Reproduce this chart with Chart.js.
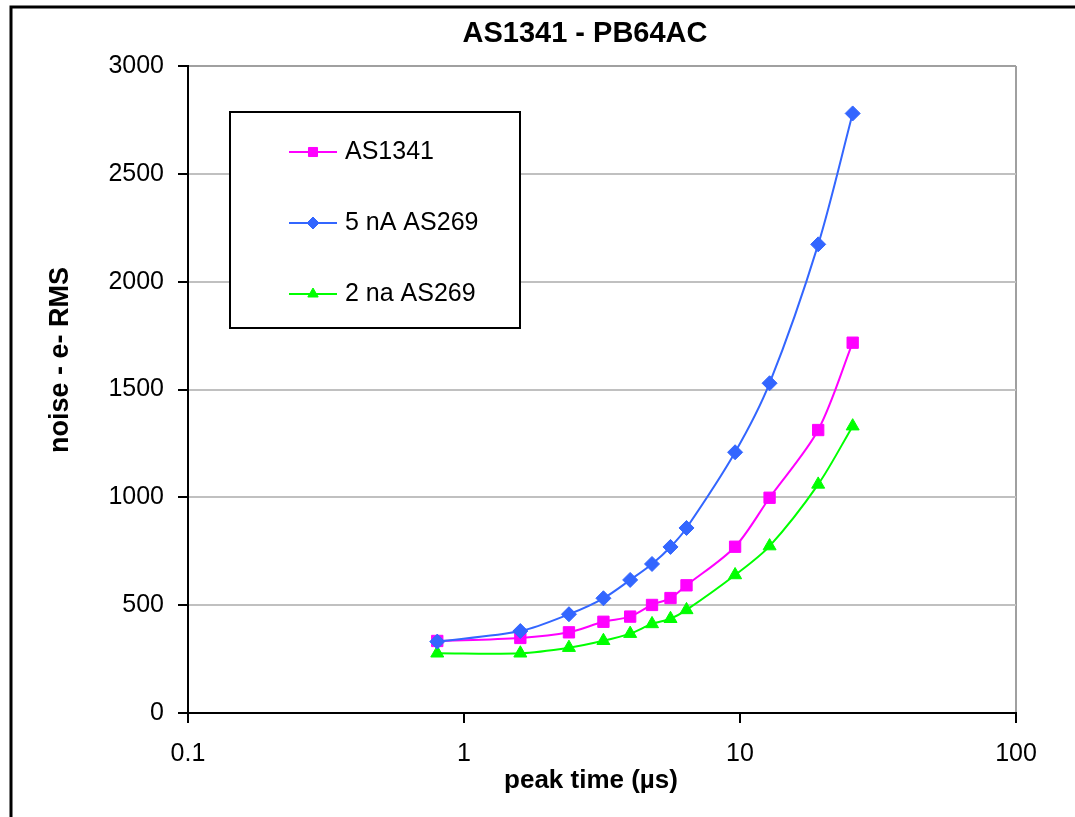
<!DOCTYPE html>
<html>
<head>
<meta charset="utf-8">
<script src="https://cdn.jsdelivr.net/npm/chart.js@4.4.1/dist/chart.umd.min.js"></script>
<style>
  html, body { margin: 0; padding: 0; background: #ffffff; }
  #wrap { width: 1075px; height: 817px; position: relative; }
  canvas { display: block; }
</style>
</head>
<body>
<div id="wrap"><canvas id="c" width="1075" height="817"></canvas></div>
<script>
// ---- data ----
const chartTitle = 'AS1341 - PB64AC';
const xAxisTitle = 'peak time (µs)';
const yAxisTitle = 'noise - e- RMS';
const peakTimes = [0.8, 1.6, 2.4, 3.2, 4.0, 4.8, 5.6, 6.4, 9.6, 12.8, 19.2, 25.6];
const noiseAS1341 = [334, 348, 374, 423, 447, 501, 533, 592, 771, 998, 1312, 1717];
const noise5nA_AS269 = [331, 380, 458, 532, 617, 691, 770, 858, 1209, 1529, 2173, 2780];
const noise2nA_AS269 = [277, 277, 303, 335, 368, 413, 437, 478, 640, 774, 1060, 1330];
const seriesLabels = ['AS1341', '5 nA AS269', '2 na AS269'];
const xTickValues = [0.1, 1, 10, 100];
const xTickLabels = ['0.1', '1', '10', '100'];
const yTickStep = 500;
const yMin = 0, yMax = 3000;

const FONT = '"Liberation Sans", Arial, Helvetica, sans-serif';
const colors = ['#ff00ff', '#3366ff', '#00ff00'];
const styles = ['rect', 'rectRot', 'triangle'];
const radii = [8, 7.5, 7.5];

function toPoints(ys) { return peakTimes.map((x, i) => ({ x: x, y: ys[i] })); }
const seriesValues = [noiseAS1341, noise5nA_AS269, noise2nA_AS269];

const datasets = seriesValues.map((ys, i) => ({
  label: seriesLabels[i],
  data: toPoints(ys),
  borderColor: colors[i],
  backgroundColor: colors[i],
  borderWidth: 2,
  pointStyle: styles[i],
  pointRadius: radii[i],
  pointHoverRadius: radii[i],
  pointBackgroundColor: colors[i],
  pointBorderColor: colors[i],
  pointBorderWidth: 1,
  tension: 0.3,
  fill: false,
  order: [1, 0, 2][i]
}));

const framePlugin = {
  id: 'frame',
  beforeDraw(chart) {
    const ctx = chart.ctx;
    ctx.save();
    ctx.fillStyle = '#ffffff';
    ctx.fillRect(0, 0, chart.width, chart.height);
    ctx.strokeStyle = '#000000';
    ctx.lineWidth = 3;
    ctx.beginPath();
    ctx.moveTo(11, chart.height + 5);
    ctx.lineTo(11, 7);
    ctx.lineTo(chart.width + 5, 7);
    ctx.stroke();
    ctx.restore();
  },
  afterDraw(chart) {
    const ctx = chart.ctx;
    ctx.save();
    ctx.fillStyle = '#000000';
    ctx.textAlign = 'center';
    ctx.textBaseline = 'middle';
    ctx.font = 'bold 29px ' + FONT;
    ctx.fillText(chartTitle, 585, 34);
    ctx.font = 'bold 26px ' + FONT;
    ctx.fillText(xAxisTitle, 591, 781);
    ctx.translate(61, 360);
    ctx.rotate(-Math.PI / 2);
    ctx.font = 'bold 27px ' + FONT;
    ctx.fillText(yAxisTitle, 0, 0);
    ctx.restore();
  }
};

const legendBoxPlugin = {
  id: 'legendBox',
  afterDatasetsDraw(chart) {
    const ctx = chart.ctx;
    const box = { x: 230, y: 112, w: 290, h: 216 };
    ctx.save();
    ctx.fillStyle = '#ffffff';
    ctx.fillRect(box.x, box.y, box.w, box.h);
    ctx.strokeStyle = '#000000';
    ctx.lineWidth = 2;
    ctx.strokeRect(box.x, box.y, box.w, box.h);
    chart.data.datasets.forEach((ds, i) => {
      const cy = 152 + i * 71;
      ctx.strokeStyle = ds.borderColor;
      ctx.lineWidth = 2;
      ctx.beginPath();
      ctx.moveTo(289, cy);
      ctx.lineTo(337, cy);
      ctx.stroke();
      ctx.fillStyle = ds.pointBackgroundColor;
      ctx.strokeStyle = ds.pointBorderColor;
      ctx.lineWidth = 1;
      Chart.helpers.drawPoint(ctx, { pointStyle: ds.pointStyle, radius: ds.pointRadius * 0.8, rotation: 0, borderWidth: 1 }, 313, cy);
      ctx.fillStyle = '#000000';
      ctx.font = '25px ' + FONT;
      ctx.textBaseline = 'middle';
      ctx.textAlign = 'left';
      ctx.fillText(ds.label, 345, cy);
    });
    ctx.restore();
  }
};

new Chart(document.getElementById('c'), {
  type: 'line',
  data: { datasets: datasets },
  options: {
    responsive: false,
    animation: false,
    devicePixelRatio: 1,
    layout: { padding: { left: 0, right: 59, top: 66, bottom: 0 } },
    plugins: {
      legend: { display: false },
      tooltip: { enabled: false },
      title: { display: false }
    },
    scales: {
      x: {
        type: 'logarithmic',
        min: 0.1,
        max: 100,
        afterFit(scale) { scale.height = 104; },
        afterBuildTicks(scale) { scale.ticks = xTickValues.map(v => ({ value: v })); },
        ticks: {
          autoSkip: false,
          maxRotation: 0,
          color: '#000000',
          padding: 16,
          font: { family: FONT, size: 25 },
          callback(value, index) { return xTickLabels[index]; }
        },
        grid: {
          drawOnChartArea: true,
          drawTicks: true,
          tickLength: 10,
          tickColor: '#000000',
          tickWidth: 2,
          lineWidth: 2,
          color(ctx) { return (ctx.tick && ctx.tick.value === 100) ? '#a0a0a0' : 'rgba(0,0,0,0)'; }
        },
        border: { display: true, color: '#000000', width: 2 },
        title: { display: false }
      },
      y: {
        type: 'linear',
        min: yMin,
        max: yMax,
        afterFit(scale) { scale.width = 188; },
        ticks: {
          stepSize: yTickStep,
          color: '#000000',
          padding: 14,
          font: { family: FONT, size: 25 },
          callback(value) { return String(value); }
        },
        grid: {
          drawTicks: true,
          tickLength: 10,
          tickColor: '#000000',
          tickWidth: 2,
          lineWidth: 2,
          color(ctx) {
            if (ctx.tick && ctx.tick.value === yMax) return '#a0a0a0';
            return '#c0c0c0';
          }
        },
        border: { display: true, color: '#000000', width: 2 },
        title: { display: false }
      }
    }
  },
  plugins: [framePlugin, legendBoxPlugin]
});
</script>
</body>
</html>
